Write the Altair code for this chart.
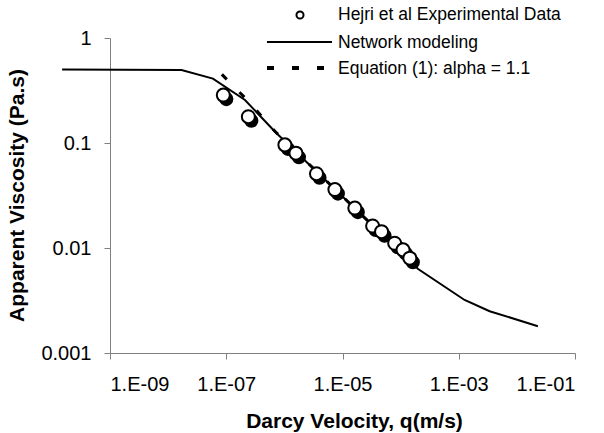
import altair as alt
import pandas as pd

# Experimental data (Hejri et al)
exp_q = [8.9e-8, 2.4e-7, 1.02e-6, 1.58e-6, 3.57e-6, 7.4e-6, 1.63e-5, 3.3e-5, 4.7e-5, 7.9e-5, 1.10e-4, 1.44e-4]
exp_mu = [0.286, 0.178, 0.096, 0.080, 0.051, 0.036, 0.024, 0.0162, 0.0143, 0.0111, 0.0096, 0.0080]

# Network modeling curve
net_q = [1.5e-10, 1.7e-8, 5.9e-8, 2.1e-7, 6.9e-7, 2.0e-4, 1.26e-3, 3.4e-3, 2.3e-2]
net_mu = [0.5, 0.495, 0.41, 0.257, 0.128, 0.0063, 0.0032, 0.0025, 0.0018]

# Equation (1): alpha = 1.1
eq_q = [8.4e-8, 2.4e-7, 7.0e-7, 1.5e-4]
eq_mu = [0.45, 0.25, 0.128, 0.0073]

legend_labels = ["Hejri et al Experimental Data", "Network modeling", "Equation (1): alpha = 1.1"]
x_ticks = [1e-9, 1e-7, 1e-5, 1e-3, 1e-1]
y_ticks = [0.001, 0.01, 0.1, 1]

FONT = "Liberation Sans"

exp_df = pd.DataFrame({"q": exp_q, "mu": exp_mu})
net_df = pd.DataFrame({"q": net_q, "mu": net_mu})
eq_df = pd.DataFrame({"q": eq_q, "mu": eq_mu})
one = pd.DataFrame({"a": [0]})

x_enc = alt.X(
    "q:Q",
    scale=alt.Scale(type="log", domain=[1e-9, 1e-1]),
    axis=alt.Axis(
        values=x_ticks,
        labelExpr="'1.E-0' + toString(-round(log(datum.value)/LN10))",
        title="Darcy Velocity, q(m/s)",
        titleX=244,
        titleY=74,
        titleBaseline="alphabetic",
        titleAlign="center",
        labelPadding=15,
    ),
)
y_enc = alt.Y(
    "mu:Q",
    scale=alt.Scale(type="log", domain=[0.001, 1]),
    axis=alt.Axis(
        values=y_ticks,
        format="~g",
        title="Apparent Viscosity (Pa.s)",
        titleX=-93,
        titleY=157,
        titleAngle=270,
        titleBaseline="middle",
        titleAlign="center",
        labelPadding=13,
    ),
)

eq_line = alt.Chart(eq_df).mark_line(
    color="black", strokeWidth=3, strokeDash=[7, 18], strokeCap="butt", clip=False
).encode(x=x_enc, y=y_enc)

net_line = alt.Chart(net_df).mark_line(color="black", strokeWidth=2, clip=False).encode(x=x_enc, y=y_enc)

shadow = alt.Chart(exp_df).mark_circle(
    color="black", size=200, opacity=1, xOffset=3, yOffset=4
).encode(x=x_enc, y=y_enc)

pts = alt.Chart(exp_df).mark_point(
    shape="circle", filled=True, fill="white", stroke="black", strokeWidth=2, size=170, opacity=1
).encode(x=x_enc, y=y_enc)

# Manual legend (top right)
leg_pt = alt.Chart(one).mark_point(
    shape="circle", fill="white", filled=True, stroke="black", strokeWidth=2, size=50, opacity=1
).encode(x=alt.value(190), y=alt.value(-23))
leg_line = alt.Chart(one).mark_rule(color="black", strokeWidth=2).encode(
    x=alt.value(157), x2=alt.value(222), y=alt.value(4)
)
leg_dash = alt.Chart(one).mark_rule(
    color="black", strokeWidth=4, strokeDash=[7, 18], strokeCap="butt"
).encode(x=alt.value(157), x2=alt.value(222), y=alt.value(30))

leg_texts = []
for i, lab in enumerate(legend_labels):
    leg_texts.append(
        alt.Chart(one).mark_text(
            text=lab, align="left", baseline="middle", font=FONT, fontSize=17.5, color="black"
        ).encode(x=alt.value(228), y=alt.value([-23, 4.5, 30.5][i]))
    )

chart = alt.layer(eq_line, net_line, shadow, pts, leg_pt, leg_line, leg_dash, *leg_texts).properties(
    width=465,
    height=315,
    padding={"left": 110, "top": 38, "right": 29, "bottom": 80},
    autosize="none",
    background="white",
).configure_axis(
    grid=False,
    domainColor="#808080",
    domainWidth=1,
    tickColor="#808080",
    tickWidth=1,
    tickSize=6,
    labelFont=FONT,
    labelFontSize=20,
    labelColor="black",
    titleFont=FONT,
    titleFontSize=21,
    titleFontWeight="bold",
    titleColor="black",
).configure_view(strokeWidth=0)

chart.save("out.html", embed_options={"renderer": "svg", "actions": False})
